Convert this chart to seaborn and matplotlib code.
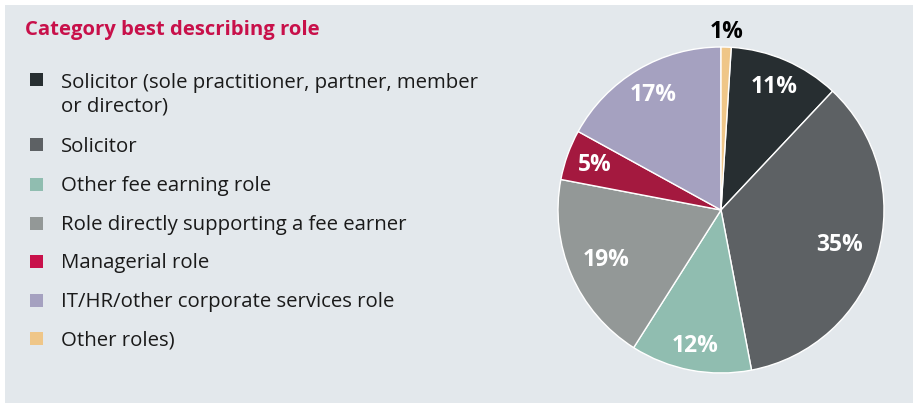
import numpy as np
import matplotlib.pyplot as plt
import seaborn as sns
from matplotlib.patches import Rectangle

roles = ['Solicitor (sole practitioner, partner, member\nor director)', 'Solicitor',
         'Other fee earning role', 'Role directly supporting a fee earner',
         'Managerial role', 'IT/HR/other corporate services role', 'Other roles)']
shares = [11, 35, 12, 19, 5, 17, 1]
pct_labels = ['11%', '35%', '12%', '19%', '5%', '17%', '1%']
colors = ['#272e31', '#5d6164', '#90bdb0', '#939897', '#a4193f', '#a5a1c0', '#efc688']
legend_colors = ['#272e31', '#5d6164', '#90bdb0', '#939897', '#c8104a', '#a5a1c0', '#efc688']

sns.set_theme(style='white')
plt.rcParams['font.family'] = ['Open Sans', 'DejaVu Sans']

W, H = 913, 403
fig = plt.figure(figsize=(W / 100, H / 100), dpi=100, facecolor='white')
fig.patches.append(Rectangle((5 / W, 0), 1, (H - 5) / H, transform=fig.transFigure,
                             facecolor='#e3e8ec', edgecolor='none', zorder=-5))

# pie
cx, cy, r = 721, 210, 163
lim = 1.2
ax = fig.add_axes([(cx - lim * r) / W, (H - cy - lim * r) / H, 2 * lim * r / W, 2 * lim * r / H])
ax.set_facecolor('none')
ax.set_zorder(2)
start = 90 - shares[-1] * 3.6
wedges, _ = ax.pie(shares, colors=colors, startangle=start, counterclock=False,
                   wedgeprops=dict(edgecolor='white', linewidth=1))
ax.set_xlim(-lim, lim)
ax.set_ylim(-lim, lim)
ax.set_aspect('equal')
ax.axis('off')

dists = [0.82, 0.76, 0.85, 0.77, 0.82, 0.82, 1.09]
for w, lab, d in zip(wedges, pct_labels, dists):
    th = np.deg2rad((w.theta1 + w.theta2) / 2)
    col = 'black' if lab == '1%' else 'white'
    ax.text(d * np.cos(th), d * np.sin(th), lab, ha='center', va='center',
            fontsize=16.5, fontweight='bold', color=col)

# title and legend
fig.text(25 / W, 1 - 30 / H, 'Category best describing role', ha='left', va='center',
         fontsize=14.6, fontweight='bold', color='#c8104a')

fs = 14.7
line_px = 24.5
ys = [79.5, 145, 184, 223, 261, 300, 338.5]
for lab, c, y in zip(roles, legend_colors, ys):
    fig.patches.append(Rectangle((30 / W, 1 - (y + 6.5) / H), 13 / W, 13 / H,
                                 transform=fig.transFigure, facecolor=c, edgecolor='none'))
    extra = lab.count('\n') * line_px
    fig.text(61 / W, 1 - (y + 7.2 + extra) / H, lab, ha='left', va='baseline', fontsize=fs,
             color='#1a1a1a', linespacing=line_px / (fs * 100 / 72))

fig.savefig('out.png', dpi=100, facecolor='white')
